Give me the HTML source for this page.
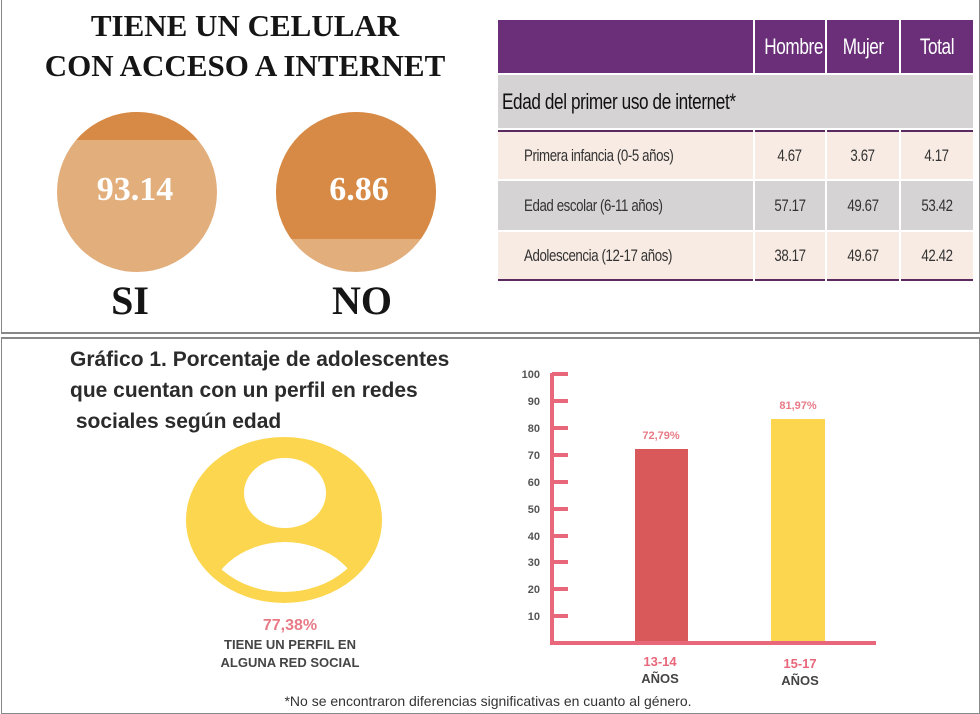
<!DOCTYPE html>
<html><head><meta charset="utf-8"><style>
body{margin:0;width:980px;height:713px;background:#fff;position:relative;overflow:hidden;font-family:"Liberation Sans",sans-serif}
.a{position:absolute}
.serif{font-family:"Liberation Serif",serif;font-weight:bold;color:#151515}
table{border-collapse:separate;border-spacing:2px;position:absolute;left:496px;top:18px;width:477px;table-layout:fixed}
td{font-size:17px;color:#333;letter-spacing:-0.5px;white-space:nowrap;overflow:hidden}
.n{display:inline-block;transform:scaleX(0.78);transform-origin:left center}
.c{text-align:center}
.c .n{transform-origin:center}
</style></head><body>
<div class="a" style="left:1px;top:0;width:977px;height:332px;border:1px solid #888;border-top:none;border-bottom:2px solid #888"></div>
<div class="a" style="left:1px;top:337px;width:977px;height:374px;border:1px solid #888;border-top:2px solid #888"></div>
<div class="a serif" style="left:0;top:6px;width:490px;text-align:center;font-size:31px;line-height:40px">TIENE UN CELULAR<br>CON ACCESO A INTERNET</div>
<svg class="a" style="left:0;top:0" width="490" height="330">
<defs><clipPath id="c1"><circle cx="137" cy="192" r="80"/></clipPath><clipPath id="c2"><circle cx="356" cy="192" r="80"/></clipPath></defs>
<g clip-path="url(#c1)"><rect x="50" y="100" width="180" height="200" fill="#e2ae7c"/><rect x="50" y="100" width="180" height="40" fill="#d78a45"/></g>
<g clip-path="url(#c2)"><rect x="270" y="100" width="180" height="200" fill="#e2ae7c"/><rect x="270" y="100" width="180" height="139" fill="#d78a45"/></g>
<text x="135" y="200" text-anchor="middle" font-family="Liberation Serif" font-weight="bold" font-size="34" fill="#fff">93.14</text>
<text x="359" y="200" text-anchor="middle" font-family="Liberation Serif" font-weight="bold" font-size="34" fill="#fff">6.86</text>
<text x="130" y="314" text-anchor="middle" font-family="Liberation Serif" font-weight="bold" font-size="40" fill="#151515">SI</text>
<text x="362" y="314" text-anchor="middle" font-family="Liberation Serif" font-weight="bold" font-size="40" fill="#151515">NO</text>
</svg>
<table>
<colgroup><col style="width:255px"><col style="width:70px"><col style="width:72px"><col style="width:72px"></colgroup>
<tr style="height:53px"><td style="background:#6a2f78"></td><td class="c" style="color:#fff;font-size:22px;background:#6a2f78"><span class="n">Hombre</span></td><td class="c" style="color:#fff;font-size:22px;background:#6a2f78"><span class="n">Mujer</span></td><td class="c" style="color:#fff;font-size:22px;background:#6a2f78"><span class="n">Total</span></td></tr>
<tr style="height:53px;background:#d5d3d4"><td colspan="4" style="font-size:22px;color:#111;padding-left:4px;background:#d5d3d4"><span class="n">Edad del primer uso de internet*</span></td></tr>
<tr style="height:49px"><td style="padding-left:26px;border-top:2px solid #5a2a60;background:#f8ebe3"><span class="n">Primera infancia (0-5 años)</span></td><td class="c" style="border-top:2px solid #5a2a60;background:#f8ebe3"><span class="n">4.67</span></td><td class="c" style="border-top:2px solid #5a2a60;background:#f8ebe3"><span class="n">3.67</span></td><td class="c" style="border-top:2px solid #5a2a60;background:#f8ebe3"><span class="n">4.17</span></td></tr>
<tr style="height:49px"><td style="padding-left:26px;background:#d5d3d4"><span class="n">Edad escolar (6-11 años)</span></td><td class="c" style="background:#d5d3d4"><span class="n">57.17</span></td><td class="c" style="background:#d5d3d4"><span class="n">49.67</span></td><td class="c" style="background:#d5d3d4"><span class="n">53.42</span></td></tr>
<tr style="height:49px"><td style="padding-left:26px;border-bottom:2px solid #5a2a60;background:#f8ebe3"><span class="n">Adolescencia (12-17 años)</span></td><td class="c" style="border-bottom:2px solid #5a2a60;background:#f8ebe3"><span class="n">38.17</span></td><td class="c" style="border-bottom:2px solid #5a2a60;background:#f8ebe3"><span class="n">49.67</span></td><td class="c" style="border-bottom:2px solid #5a2a60;background:#f8ebe3"><span class="n">42.42</span></td></tr>
</table>
<div class="a" style="left:70px;top:344px;font-size:21px;font-weight:bold;color:#2b2b2b;line-height:31px">Gráfico 1. Porcentaje de adolescentes<br>que cuentan con un perfil en redes<br>&nbsp;sociales según edad</div>
<svg class="a" style="left:0;top:340px" width="980" height="373">
<defs><clipPath id="e"><ellipse cx="284" cy="180" rx="86" ry="72"/></clipPath></defs>
<ellipse cx="284" cy="180" rx="98" ry="83" fill="#fbd64e"/>
<ellipse cx="285" cy="153" rx="41" ry="35" fill="#fff"/>
<g clip-path="url(#e)"><ellipse cx="285" cy="272" rx="80" ry="70" fill="#fff"/></g>
<text x="290" y="290" text-anchor="middle" font-size="16" font-weight="bold" fill="#e87a86">77,38%</text>
<text x="290" y="309" text-anchor="middle" font-size="13" font-weight="bold" fill="#444">TIENE UN PERFIL EN</text>
<text x="290" y="327" text-anchor="middle" font-size="13" font-weight="bold" fill="#444">ALGUNA RED SOCIAL</text>
<g stroke="#e8677a" stroke-width="4" fill="none"><path d="M552 33 V303 H876"/>
<path d="M552 34h16M552 61h16M552 88h16M552 115h16M552 142h16M552 169h16M552 196h16M552 222h16M552 249h16M552 276h16"/></g>
<g font-size="11" font-weight="bold" fill="#555" text-anchor="end">
<text x="540" y="38">100</text><text x="540" y="65">90</text><text x="540" y="92">80</text><text x="540" y="119">70</text><text x="540" y="146">60</text><text x="540" y="173">50</text><text x="540" y="200">40</text><text x="540" y="226">30</text><text x="540" y="253">20</text><text x="540" y="280">10</text></g>
<rect x="635" y="109" width="53" height="192" fill="#d9585a"/>
<rect x="771" y="79" width="54" height="222" fill="#fcd64f"/>
<g font-size="11" font-weight="bold" fill="#e87a86" text-anchor="middle"><text x="661" y="99">72,79%</text><text x="798" y="69">81,97%</text></g>
<g font-size="13" font-weight="bold" text-anchor="middle"><text x="660" y="326" fill="#e8677a">13-14</text><text x="660" y="343" fill="#444">AÑOS</text><text x="800" y="328" fill="#e8677a">15-17</text><text x="800" y="345" fill="#444">AÑOS</text></g>
<text x="488" y="366" text-anchor="middle" font-size="14" fill="#333">*No se encontraron diferencias significativas en cuanto al género.</text>
</svg>
</body></html>
